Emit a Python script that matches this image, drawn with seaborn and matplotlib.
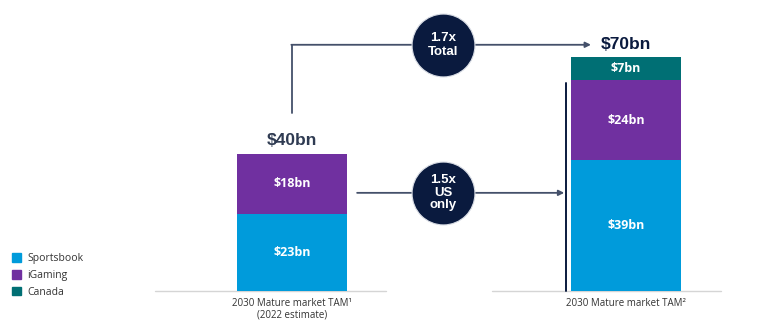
import matplotlib
matplotlib.use("Agg")
import matplotlib.pyplot as plt
from matplotlib.patches import Patch
import pandas as pd
import seaborn as sns

# Market size data (US$ bn)
markets = ["2030 Mature market TAM¹\n(2022 estimate)", "2030 Mature market TAM²"]
sportsbook = [23, 39]
igaming = [18, 24]
canada = [0, 7]
totals_label = ["$40bn", "$70bn"]
growth_total = "1.7x\nTotal"
growth_us = "1.5x\nUS\nonly"

C_SPORT = "#009BDB"
C_IGAM = "#7030A0"
C_CAN = "#006F74"
C_NAVY = "#0A1A3E"
C_LINE = "#44506A"
C_TEXT = "#333333"

sns.set_theme(style="white")
plt.rcParams["font.family"] = ["Liberation Sans", "DejaVu Sans"]

df = pd.DataFrame({"market": markets, "sportsbook": sportsbook,
                   "igaming": igaming, "canada": canada})
df["us"] = df["sportsbook"] + df["igaming"]
df["total"] = df["us"] + df["canada"]

fig = plt.figure(figsize=(7.73, 3.23), dpi=100)
ax = fig.add_axes([0, 0, 1, 1])

bw = 0.33
# stacked bars drawn as overlapping cumulative bars
sns.barplot(data=df, x="market", y="total", color=C_CAN, width=bw,
            saturation=1, linewidth=0, ax=ax, zorder=2)
sns.barplot(data=df, x="market", y="us", color=C_IGAM, width=bw,
            saturation=1, linewidth=0, ax=ax, zorder=2)
sns.barplot(data=df, x="market", y="sportsbook", color=C_SPORT, width=bw,
            saturation=1, linewidth=0, ax=ax, zorder=2)

px = 3.35
ax.set_xlim(-292 / 334, (773 - 292) / 334)
ax.set_ylim(-32 / px, 291 / px)
ax.set_axis_off()

# baselines
ax.plot([-0.41, 0.28], [0, 0], color="#D5D5D5", lw=1, zorder=1)
ax.plot([0.60, 1.285], [0, 0], color="#D5D5D5", lw=1, zorder=1)

seg_font = dict(family=["Open Sans", "DejaVu Sans"], fontsize=9,
                fontweight="bold", color="white", ha="center", va="center")
for i, row in df.iterrows():
    ax.text(i, row["sportsbook"] / 2, f"${row['sportsbook']}bn", **seg_font, zorder=3)
    ax.text(i, row["sportsbook"] + row["igaming"] / 2, f"${row['igaming']}bn",
            **seg_font, zorder=3)
    if row["canada"] > 0:
        ax.text(i, row["us"] + row["canada"] / 2, f"${row['canada']}bn",
                **seg_font, zorder=3)
    ax.annotate(row["market"], xy=(i, 0), xytext=(0, -5), textcoords="offset points",
                ha="center", va="top", fontsize=7, color=C_TEXT,
                family=["Open Sans", "DejaVu Sans"], linespacing=1.1)

# total labels
ax.annotate(totals_label[0], xy=(0, df["total"][0]), xytext=(0, 4),
            textcoords="offset points", ha="center", va="bottom",
            fontsize=12.5, fontweight="bold", color="#2F3B52")
top_y = 73.5
ax.text(1, top_y, totals_label[1], ha="center", va="center",
        fontsize=12.5, fontweight="bold", color=C_NAVY)

# total growth connector
ax.plot([0, 0], [df["total"][0] + 12, top_y], color=C_LINE, lw=1.3, zorder=1)
ax.annotate("", xy=(0.895, top_y), xytext=(-0.002, top_y),
            arrowprops=dict(arrowstyle="-|>", color=C_LINE, lw=1.3,
                            mutation_scale=8, shrinkA=0, shrinkB=0), zorder=1)

# US-only connector
mid_y = 29.3
br_x = 0.82
ax.plot([br_x, br_x], [0, df["us"][1] - 1], color=C_NAVY, lw=1.4, zorder=1)
ax.annotate("", xy=(br_x - 0.005, mid_y), xytext=(0.195, mid_y),
            arrowprops=dict(arrowstyle="-|>", color=C_LINE, lw=1.3,
                            mutation_scale=8, shrinkA=0, shrinkB=0), zorder=1)

# growth badges
circ_x = 0.452
ax.scatter([circ_x, circ_x], [top_y, mid_y], s=2050, color=C_NAVY,
           edgecolor="#D8DCE4", linewidth=0.8, zorder=4)
ax.text(circ_x, top_y, growth_total, ha="center", va="center", color="white",
        fontsize=9.5, fontweight="bold", linespacing=1.25, zorder=5)
ax.text(circ_x, mid_y, growth_us, ha="center", va="center", color="white",
        fontsize=9.5, fontweight="bold", linespacing=1.05, zorder=5)

handles = [Patch(color=C_SPORT, label="Sportsbook"),
           Patch(color=C_IGAM, label="iGaming"),
           Patch(color=C_CAN, label="Canada")]
fig.legend(handles=handles, loc="upper left", bbox_to_anchor=(0.003, 0.245),
           frameon=False, handlelength=0.9, handleheight=0.9,
           handletextpad=0.6, labelspacing=0.55, labelcolor=C_TEXT,
           prop={"family": ["Open Sans", "DejaVu Sans"], "size": 7.5})

fig.savefig("out.png", dpi=100)
